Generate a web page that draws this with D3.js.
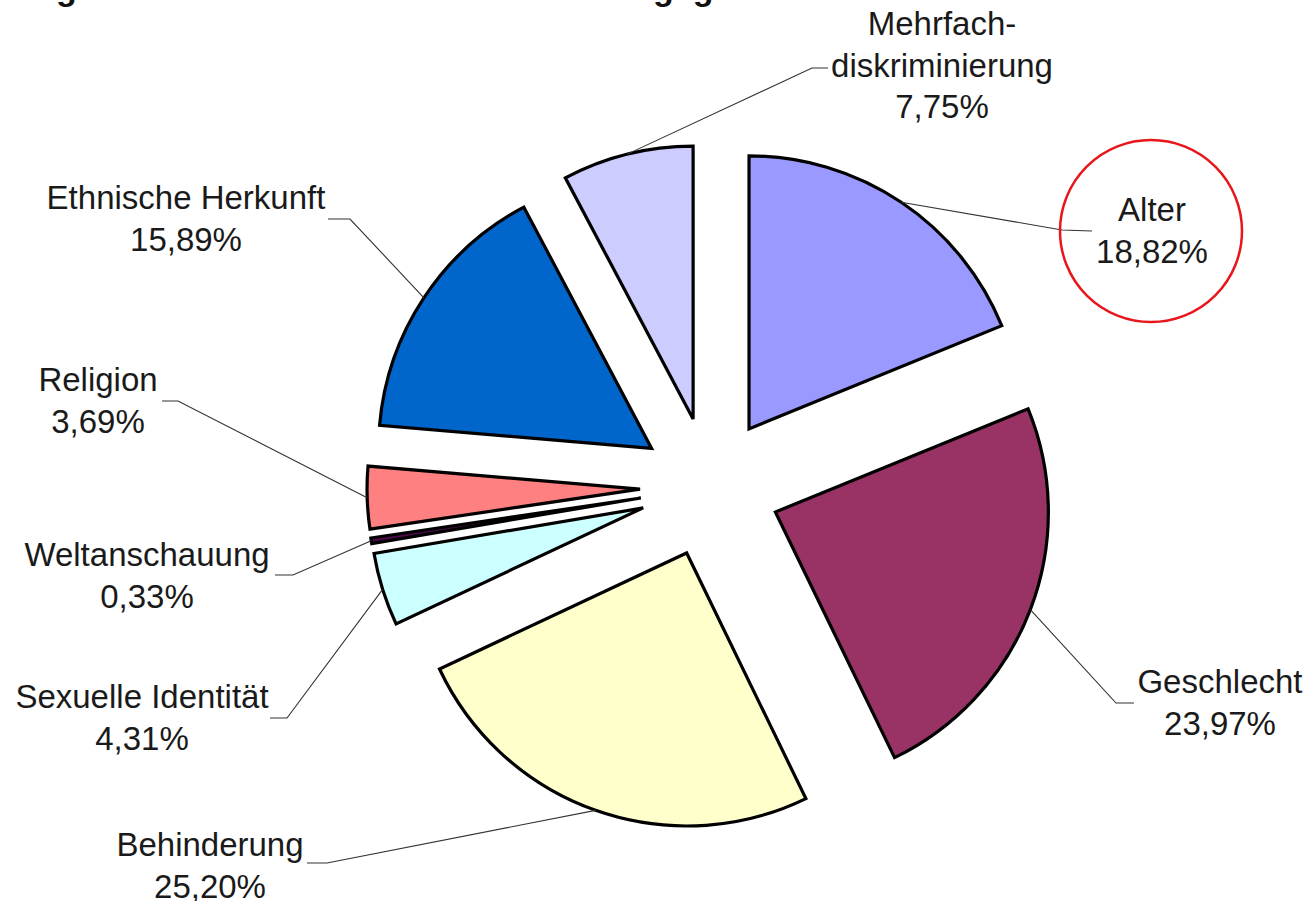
<!DOCTYPE html>
<html>
<head>
<meta charset="utf-8">
<script src="https://cdn.jsdelivr.net/npm/d3@7"></script>
<style>
  body { margin: 0; background: #fff; }
  svg { display: block; }
</style>
</head>
<body>
<div id="chart"></div>
<script>
// data
var categories = ["Alter", "Geschlecht", "Behinderung", "Sexuelle Identität",
                  "Weltanschauung", "Religion", "Ethnische Herkunft", "Mehrfachdiskriminierung"];
var shares = [18.82, 23.97, 25.20, 4.31, 0.33, 3.69, 15.89, 7.75];
var shareLabels = ["18,82%", "23,97%", "25,20%", "4,31%", "0,33%", "3,69%", "15,89%", "7,75%"];
var nameLines = [["Alter"], ["Geschlecht"], ["Behinderung"], ["Sexuelle Identität"],
                 ["Weltanschauung"], ["Religion"], ["Ethnische Herkunft"], ["Mehrfach-", "diskriminierung"]];
var colors = ["#9999ff", "#993366", "#ffffcc", "#ccffff", "#4a0a4a", "#ff8080", "#0066cc", "#ccccff"];

var width = 1308, height = 901;
var cx = 710, cy = 487, radius = 273, explode = 70;

// label layout: text centre x, first baseline y, elbow of leader, end of short horizontal
var layout = [
  {x: 1152, y: 221, elbow: [1062, 230], end: [1092, 231]},
  {x: 1220, y: 693, elbow: [1116, 703], end: [1134, 703]},
  {x: 210,  y: 856, elbow: [327, 863],  end: [307, 863]},
  {x: 142,  y: 708, elbow: [287, 718],  end: [270, 718]},
  {x: 147,  y: 566, elbow: [293, 575],  end: [275, 575]},
  {x: 98,   y: 391, elbow: [178, 401],  end: [162, 401]},
  {x: 186,  y: 209, elbow: [350, 219],  end: [328, 219]},
  {x: 942,  y: 35,  elbow: [812, 68],   end: [828, 68]}
];

var data = categories.map(function(c, i) {
  return {name: c, value: shares[i], label: shareLabels[i], lines: nameLines[i], color: colors[i], pos: layout[i]};
});

var svg = d3.select("#chart").append("svg")
    .attr("width", width)
    .attr("height", height);

// title, mostly cut off at the top edge
svg.append("text")
    .attr("x", 20)
    .attr("y", 0)
    .attr("font-family", "'Liberation Sans', Arial, sans-serif")
    .attr("font-weight", "bold")
    .attr("font-size", 34)
    .attr("fill", "#111")
    .text("Ergebnis: Merkmale der Diskriminierungsgründe");

var pie = d3.pie()
    .sort(null)
    .value(function(d) { return d.value; });

var arc = d3.arc()
    .innerRadius(0)
    .outerRadius(radius);

var arcs = pie(data);

function offset(d, r) {
  var a = (d.startAngle + d.endAngle) / 2;
  return [Math.sin(a) * r, -Math.cos(a) * r];
}

var slices = svg.append("g")
    .attr("transform", "translate(" + cx + "," + cy + ")");

slices.selectAll("path")
    .data(arcs)
    .enter().append("path")
    .attr("transform", function(d) { var o = offset(d, explode); return "translate(" + o[0] + "," + o[1] + ")"; })
    .attr("d", arc)
    .attr("fill", function(d) { return d.data.color; })
    .attr("stroke", "#000")
    .attr("stroke-width", 3.2)
    .attr("stroke-linejoin", "miter");

// leader lines from arc midpoint to label
svg.append("g").selectAll("polyline")
    .data(arcs)
    .enter().append("polyline")
    .attr("points", function(d) {
      var o = offset(d, explode + radius);
      var p = d.data.pos;
      return [[cx + o[0], cy + o[1]], p.elbow, p.end].map(function(q) { return q.join(","); }).join(" ");
    })
    .attr("fill", "none")
    .attr("stroke", "#333")
    .attr("stroke-width", 1.1);

var labels = svg.append("g")
    .attr("font-family", "'Liberation Sans', Arial, sans-serif")
    .attr("font-size", 33)
    .attr("fill", "#1a1a1a")
    .attr("text-anchor", "middle")
    .selectAll("text")
    .data(data)
    .enter().append("text")
    .attr("x", function(d) { return d.pos.x; })
    .attr("y", function(d) { return d.pos.y; });

labels.each(function(d) {
  var t = d3.select(this);
  var lines = d.lines.concat([d.label]);
  lines.forEach(function(l, i) {
    t.append("tspan")
      .attr("x", d.pos.x)
      .attr("dy", i === 0 ? 0 : (d.lines.length > 1 ? 41.5 : 42))
      .text(l);
  });
});

// red highlight circle round "Alter"
svg.append("ellipse")
    .attr("cx", 1151)
    .attr("cy", 231)
    .attr("rx", 91)
    .attr("ry", 91)
    .attr("fill", "none")
    .attr("stroke", "#e8161b")
    .attr("stroke-width", 2.5);
</script>
</body>
</html>
